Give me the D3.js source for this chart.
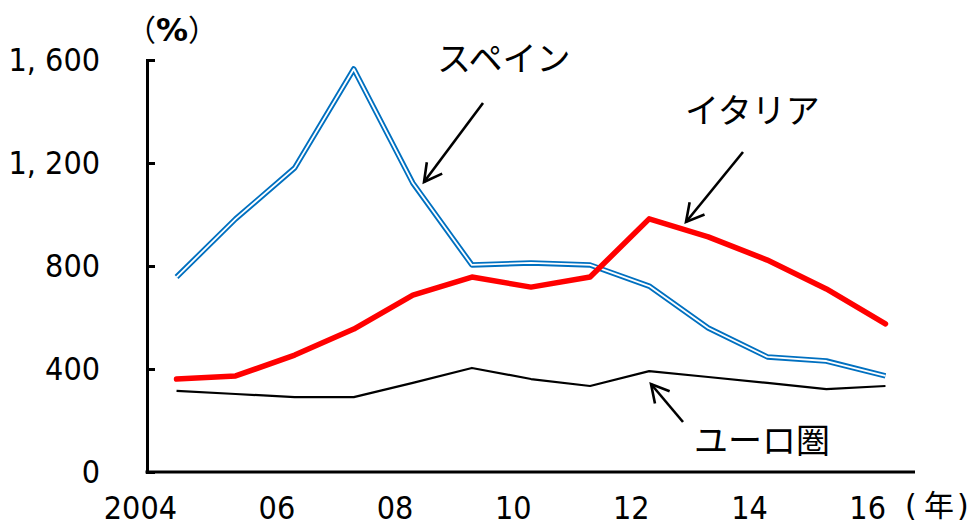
<!DOCTYPE html>
<html><head><meta charset="utf-8">
<script src="https://cdn.jsdelivr.net/npm/d3@7"></script>
<style>
body{margin:0;background:#fff;}
svg text{fill:#000;}
.num{font-family:"DejaVu Sans Condensed","DejaVu Sans",sans-serif;font-stretch:condensed;}
</style></head>
<body>
<svg id="c" width="972" height="526"></svg>
<script>
const years = [2004,2005,2006,2007,2008,2009,2010,2011,2012,2013,2014,2015,2016];
const spain = [757,983,1181,1565,1122,804,812,804,722,559,447,431,373];
const italy = [361,373,454,555,687,757,718,757,983,913,823,711,575];
const euro  = [315,303,291,291,346,404,361,334,392,369,346,322,334];
const yTicks = [0,400,800,1200,1600];
const xTickYears = [2004,2006,2008,2010,2012,2014,2016];
const xTickLabels = ["2004","06","08","10","12","14","16"];

const svg = d3.select("#c");
const x = d3.scaleLinear().domain([2003.5,2016.5]).range([147,915]);
const y = d3.scaleLinear().domain([0,1600]).range([472,60]);

// y axis
const yAxis = d3.axisLeft(y).tickValues(yTicks).tickSize(-8).tickPadding(47)
  .tickFormat(d => d3.format(",")(d).replace(",", ", "));
const gy = svg.append("g").attr("transform","translate(147,0)").call(yAxis);
gy.select(".domain").attr("stroke","#000").attr("stroke-width",3);
gy.selectAll(".tick line").attr("stroke","#000").attr("stroke-width",3);
gy.selectAll(".tick text").attr("class","num").attr("font-size",32).attr("fill","#000")
  .attr("font-family",null);

// x axis
const xAxis = d3.axisBottom(x).tickValues(xTickYears).tickSize(0).tickPadding(0)
  .tickFormat((d,i)=>xTickLabels[i]);
const gx = svg.append("g").attr("transform","translate(0,472)").call(xAxis);
gx.select(".domain").attr("stroke","#000").attr("stroke-width",3)
  .attr("d","M145.5,0H915");
gx.selectAll(".tick text").attr("class","num").attr("font-size",32).attr("fill","#000")
  .attr("font-family",null)
  .attr("text-anchor","end").attr("dx",0).attr("dy",0).attr("y",47);

const line = d3.line().x((d,i)=>x(years[i])).y(d=>y(d));

// euro
svg.append("path").datum(euro).attr("d",line).attr("fill","none")
  .attr("stroke","#000").attr("stroke-width",2.2).attr("stroke-linejoin","round");
// spain double line
svg.append("path").datum(spain).attr("d",line).attr("fill","none")
  .attr("stroke","#0070c0").attr("stroke-width",5.5).attr("stroke-linejoin","round");
svg.append("path").datum(spain).attr("d",line).attr("fill","none")
  .attr("stroke","#fff").attr("stroke-width",1.8).attr("stroke-linejoin","round");
// italy
svg.append("path").datum(italy).attr("d",line).attr("fill","none")
  .attr("stroke","#ff0000").attr("stroke-width",5.5).attr("stroke-linejoin","round").attr("stroke-linecap","round");

// arrows
function arrow(x1,y1,x2,y2){
  svg.append("line").attr("x1",x1).attr("y1",y1).attr("x2",x2).attr("y2",y2)
    .attr("stroke","#000").attr("stroke-width",2.6);
  const a = Math.atan2(y2-y1,x2-x1), L=20, s=0.5;
  const p = [[x2 - L*Math.cos(a-s), y2 - L*Math.sin(a-s)],[x2,y2],[x2 - L*Math.cos(a+s), y2 - L*Math.sin(a+s)]];
  svg.append("path").attr("d",d3.line()(p)).attr("fill","none").attr("stroke","#000").attr("stroke-width",2.6);
}
arrow(483,103,424,182);
arrow(743,152,686,222);
arrow(683,422,651,384);

// labels
function label(t,xx,yy,size){
  return svg.append("text").attr("x",xx).attr("y",yy).attr("font-size",size)
    .attr("font-family",'"Noto Sans CJK JP",sans-serif').text(t);
}
label("スペイン",437,71,34);
label("イタリア",685,123,34);
label("ユーロ圏",694,453,34);
const pct = svg.append("text").attr("x",126).attr("y",41).attr("font-size",30)
  .attr("font-family",'"Noto Sans CJK JP",sans-serif');
pct.append("tspan").text("（");
pct.append("tspan").attr("font-weight","bold").attr("font-size",32).attr("font-family",'"DejaVu Sans",sans-serif').text("%");
pct.append("tspan").text("）");
const nen = svg.append("text").attr("y",516).attr("font-size",30)
  .attr("font-family",'"Noto Sans CJK JP",sans-serif');
nen.append("tspan").attr("x",905).attr("font-family",'"DejaVu Sans",sans-serif').text("(");
nen.append("tspan").attr("x",924).text("年");
nen.append("tspan").attr("x",957).attr("font-family",'"DejaVu Sans",sans-serif').text(")");
</script>
</body></html>
